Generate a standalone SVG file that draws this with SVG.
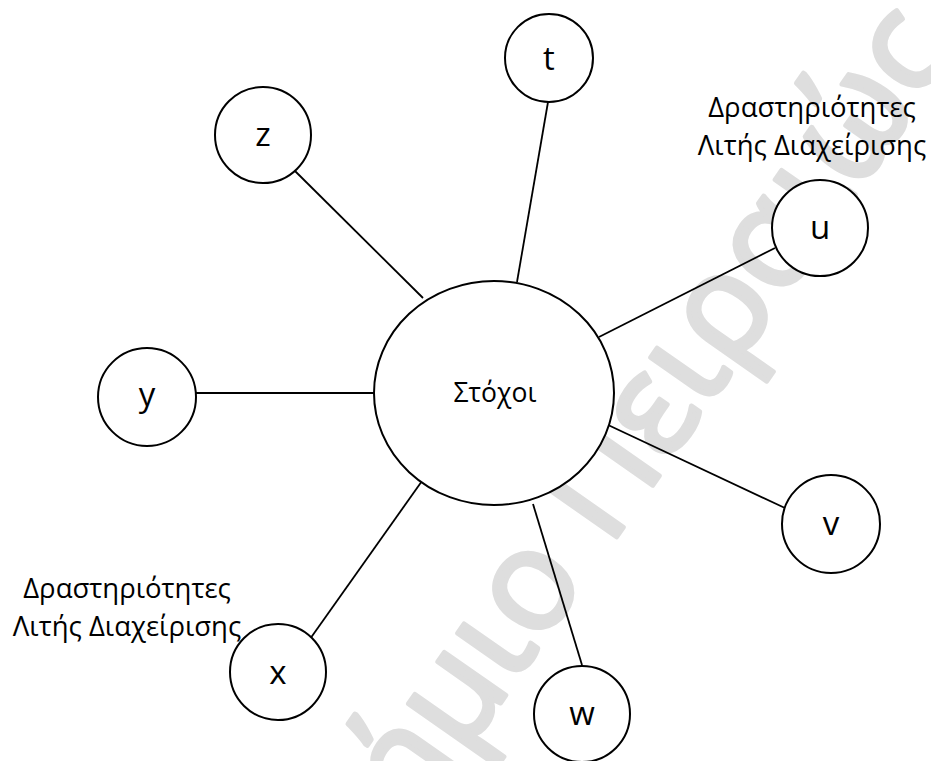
<svg xmlns="http://www.w3.org/2000/svg" width="931" height="761" viewBox="0 0 931 761">
  <style>
    .node { fill: #ffffff; stroke: #000000; stroke-width: 2; }
    .edge { stroke: #000000; stroke-width: 1.8; fill: none; }
    .lbl { font-family: "Open Sans", "Noto Sans", "DejaVu Sans", sans-serif; font-size: 33px; fill: #000000; text-anchor: middle; }
    .goal { font-family: "Open Sans", "Noto Sans", "DejaVu Sans", sans-serif; font-size: 26.5px; fill: #000000; text-anchor: middle; }
    .note { font-family: "Open Sans", "Noto Sans", "DejaVu Sans", sans-serif; font-size: 27.5px; fill: #000000; text-anchor: middle; }
    .mark { font-family: "Open Sans", "Noto Sans", "DejaVu Sans", sans-serif; font-size: 140px; font-weight: 400; fill: #dedede; stroke: #dedede; stroke-width: 5; stroke-linejoin: round; }
  </style>

  <rect width="931" height="761" fill="#ffffff"/>

  <!-- background watermark -->
  <g id="watermark" transform="translate(564,612) rotate(-55)">
    <text class="mark" x="42" y="0" text-anchor="end">Πανεπιστήμιο</text>
    <text class="mark" x="78" y="0">Πειραιώς</text>
  </g>

  <!-- connectors from the central goal to each activity -->
  <g id="connectors">
    <line class="edge" x1="295" y1="171" x2="423" y2="298"/>
    <line class="edge" x1="548" y1="102" x2="517" y2="282"/>
    <line class="edge" x1="775" y1="248" x2="599" y2="337"/>
    <line class="edge" x1="196" y1="393" x2="374" y2="393"/>
    <line class="edge" x1="606" y1="424" x2="785" y2="508"/>
    <line class="edge" x1="422" y1="481" x2="310" y2="639"/>
    <line class="edge" x1="533" y1="504" x2="582" y2="665"/>
  </g>

  <g id="node-goals">
    <ellipse class="node" cx="494" cy="393" rx="120" ry="112"/>
    <text class="goal" x="495" y="402">Στόχοι</text>
  </g>
  <g id="node-t">
    <circle class="node" cx="549" cy="58" r="44"/>
    <text class="lbl" x="549" y="70">t</text>
  </g>
  <g id="node-z">
    <circle class="node" cx="263" cy="135" r="48"/>
    <text class="lbl" x="263" y="146">z</text>
  </g>
  <g id="node-u">
    <circle class="node" cx="820" cy="228" r="48"/>
    <text class="lbl" x="820" y="239">u</text>
  </g>
  <g id="node-y">
    <circle class="node" cx="147" cy="397" r="49"/>
    <text class="lbl" x="147" y="406">y</text>
  </g>
  <g id="node-v">
    <circle class="node" cx="831" cy="524" r="49"/>
    <text class="lbl" x="831" y="535">v</text>
  </g>
  <g id="node-x">
    <circle class="node" cx="278" cy="672" r="48"/>
    <text class="lbl" x="278" y="684">x</text>
  </g>
  <g id="node-w">
    <circle class="node" cx="582" cy="714" r="48"/>
    <text class="lbl" x="582" y="725">w</text>
  </g>

  <!-- annotations -->
  <g id="note-u">
    <text class="note" x="812" y="117">Δραστηριότητες</text>
    <text class="note" x="812" y="155">Λιτής Διαχείρισης</text>
  </g>
  <g id="note-x">
    <text class="note" x="127" y="598">Δραστηριότητες</text>
    <text class="note" x="127" y="636">Λιτής Διαχείρισης</text>
  </g>
</svg>
